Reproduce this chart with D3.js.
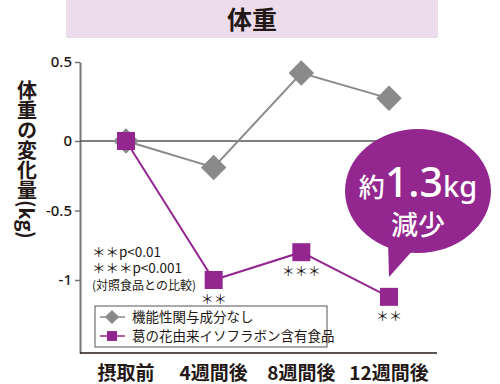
<!DOCTYPE html>
<html><head><meta charset="utf-8">
<script src="https://cdn.jsdelivr.net/npm/d3@7/dist/d3.min.js"></script>
<style>
html,body{margin:0;padding:0;background:#fff;}
svg{display:block;font-family:"Noto Sans CJK JP","Noto Sans",sans-serif;}
</style></head>
<body>
<svg id="c" width="500" height="384"></svg>
<script>
const categories = ["摂取前", "4週間後", "8週間後", "12週間後"];
const controlValues = [0, -0.19, 0.43, 0.27];
const testValues = [0, -1.0, -0.8, -1.12];
const significance = ["", "＊＊", "＊＊＊", "＊＊"];
const yTicks = [0.5, 0, -0.5, -1];
const seriesNames = ["機能性関与成分なし", "葛の花由来イソフラボン含有食品"];
const title = "体重";
const yTitle = "体重の変化量(kg)";
const noteLines = ["＊＊p<0.01", "＊＊＊p<0.001", "(対照食品との比較)"];
const calloutTop = ["約", "1.3", "kg"];
const calloutBottom = "減少";

const purple = "#93278f", gray = "#8a8a8a";
const svg = d3.select("#c");

// title band
svg.append("rect").attr("x", 66).attr("y", 0).attr("width", 372).attr("height", 38).attr("fill", "#eddcec");
svg.append("text").attr("x", 252).attr("y", 29).attr("text-anchor", "middle")
  .attr("font-size", 25).attr("font-weight", 700).attr("fill", "#231815").text(title);

const x = d3.scalePoint().domain(categories).range([126, 389]);
const y = d3.scaleLinear().domain([-1.52, -1, 0, 0.5]).range([353, 280, 141, 62]);

// y axis
const ya = svg.append("g").attr("transform", "translate(80,0)")
  .call(d3.axisLeft(y).tickValues(yTicks).tickSize(5).tickSizeOuter(0).tickFormat(d => String(d)));
ya.select(".domain").attr("stroke", "#777").attr("stroke-width", 2);
ya.selectAll(".tick line").attr("stroke", "#777").attr("stroke-width", 1.5);
ya.selectAll(".tick text").attr("font-size", 15).attr("font-family", "'Noto Sans','Noto Sans CJK JP',sans-serif")
  .attr("font-weight", 500).attr("fill", "#231815").attr("x", -8);

// x axis line
svg.append("line").attr("x1", 80).attr("x2", 437).attr("y1", 353).attr("y2", 353)
  .attr("stroke", "#231815").attr("stroke-width", 1.5);
// zero line
svg.append("line").attr("x1", 80).attr("x2", 437).attr("y1", y(0)).attr("y2", y(0))
  .attr("stroke", "#555").attr("stroke-width", 1.5);

// category labels
svg.selectAll(".cat").data(categories).enter().append("text")
  .attr("x", d => x(d)).attr("y", 380).attr("text-anchor", "middle")
  .attr("font-size", 19).attr("font-weight", 700).attr("fill", "#231815").text(d => d);

// y title vertical
svg.append("text").attr("x", 27).attr("y", 80)
  .style("writing-mode", "vertical-rl").style("text-orientation", "mixed")
  .attr("font-size", 20).attr("font-weight", 700).attr("fill", "#231815").text(yTitle);

// lines
const line = d3.line().x((d, i) => x(categories[i])).y(d => y(d));
svg.append("path").datum(controlValues).attr("d", line).attr("fill", "none").attr("stroke", gray).attr("stroke-width", 2);
svg.append("path").datum(testValues).attr("d", line).attr("fill", "none").attr("stroke", purple).attr("stroke-width", 2);

// diamonds
svg.selectAll(".dia").data(controlValues).enter().append("rect")
  .attr("x", -9).attr("y", -9).attr("width", 18).attr("height", 18).attr("fill", gray)
  .attr("transform", (d, i) => `translate(${x(categories[i])},${y(d)}) rotate(45)`);
// squares
svg.selectAll(".sq").data(testValues).enter().append("rect")
  .attr("x", (d, i) => x(categories[i]) - 9).attr("y", d => y(d) - 9)
  .attr("width", 18).attr("height", 18).attr("fill", purple);

// significance
svg.selectAll(".sig").data(significance).enter().append("text")
  .attr("x", (d, i) => x(categories[i])).attr("y", (d, i) => y(testValues[i]) + 24)
  .attr("text-anchor", "middle").attr("font-size", 13).attr("fill", "#231815").text(d => d);

// note
svg.selectAll(".note").data(noteLines).enter().append("text")
  .attr("x", 92).attr("y", (d, i) => [257, 273, 290][i])
  .attr("font-size", (d, i) => i < 2 ? 13.5 : 12).attr("fill", "#231815").text(d => d);

// legend
svg.append("rect").attr("x", 95).attr("y", 306).attr("width", 232).attr("height", 41)
  .attr("fill", "#fff").attr("stroke", "#555").attr("stroke-width", 1);
const lg = svg.selectAll(".lg").data(seriesNames).enter().append("g")
  .attr("transform", (d, i) => `translate(0,${317 + i * 19})`);
lg.append("line").attr("x1", 100).attr("x2", 125).attr("stroke", (d, i) => i ? purple : gray).attr("stroke-width", 1.5);
lg.filter((d, i) => i === 0).append("rect").attr("x", -5).attr("y", -5).attr("width", 10).attr("height", 10)
  .attr("fill", gray).attr("transform", "translate(112,0) rotate(45)");
lg.filter((d, i) => i === 1).append("rect").attr("x", 107).attr("y", -5).attr("width", 10).attr("height", 10).attr("fill", purple);
lg.append("text").attr("x", 132).attr("y", 5).attr("font-size", 13.5).attr("fill", "#231815").text(d => d);

// callout bubble
const cx = 418, cy = 191;
svg.append("path").attr("fill", purple)
  .attr("d", `M${cx - 30},${cy + 50} L389,277 L${cx - 4},${cy + 58} Z`);
svg.append("ellipse").attr("cx", cx).attr("cy", cy).attr("rx", 73).attr("ry", 62).attr("fill", purple);
const t1 = svg.append("text").attr("x", cx).attr("y", 197).attr("text-anchor", "middle").attr("fill", "#fff").attr("font-weight", 500);
t1.append("tspan").attr("font-size", 26).text(calloutTop[0]);
t1.append("tspan").attr("font-size", 41).attr("font-family", "'Noto Sans',sans-serif").text(calloutTop[1]);
t1.append("tspan").attr("font-size", 29).attr("font-family", "'Noto Sans',sans-serif").text(calloutTop[2]);
svg.append("text").attr("x", cx).attr("y", 235).attr("text-anchor", "middle").attr("fill", "#fff")
  .attr("font-size", 27).attr("font-weight", 500).text(calloutBottom);
</script>
</body></html>
